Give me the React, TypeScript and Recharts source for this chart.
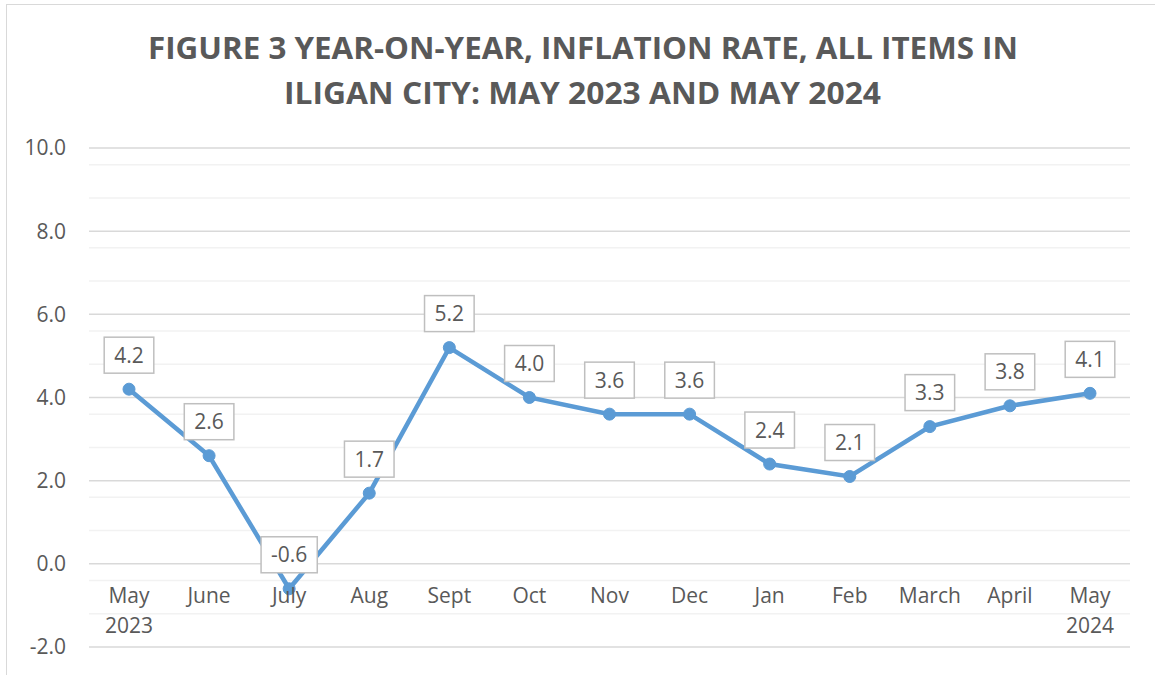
import { CartesianGrid, LabelList, Line, LineChart, XAxis, YAxis } from "recharts";

const categories = ["May 2023", "June", "July", "Aug", "Sept", "Oct", "Nov", "Dec", "Jan", "Feb", "March", "April", "May 2024"];
const inflation = [4.2, 2.6, -0.6, 1.7, 5.2, 4.0, 3.6, 3.6, 2.4, 2.1, 3.3, 3.8, 4.1];
const yTicks = [-2, 0, 2, 4, 6, 8, 10];
const minorGrid = [-1.6, -1.2, -0.8, -0.4, 0.4, 0.8, 1.2, 1.6, 2.4, 2.8, 3.2, 3.6, 4.4, 4.8, 5.2, 5.6, 6.4, 6.8, 7.2, 7.6, 8.4, 8.8, 9.2, 9.6];
const titleLines = ["FIGURE 3 YEAR-ON-YEAR, INFLATION RATE, ALL ITEMS IN", "ILIGAN CITY: MAY 2023 AND MAY 2024"];

const data = categories.map((c, i) => ({ month: c, rate: inflation[i] }));

const W = 1155;
const H = 675;
const TOP = 148;
const BOTTOM = 28;
const PLOT_H = H - TOP - BOTTOM;
const Y_MIN = -2;
const Y_MAX = 10;
// x labels sit on the zero line, not the bottom of the plot
const ZERO_UP = (PLOT_H * (0 - Y_MIN)) / (Y_MAX - Y_MIN);

const FONT = "'Open Sans', sans-serif";
const GREY = "#595959";

const MonthTick = (props: any) => {
  const { x, y, payload } = props;
  const lines = String(payload.value).split(" ");
  const base = y - ZERO_UP + 31;
  return (
    <g>
      {lines.map((l: string, i: number) => (
        <text key={i} x={x} y={base + i * 30} textAnchor="middle" fill={GREY} fontSize={21} fontFamily={FONT}>
          {l}
        </text>
      ))}
    </g>
  );
};

const BoxLabel = (props: any) => {
  const { x, y, value } = props;
  const txt = Number(value).toFixed(1);
  let w = 20;
  for (const ch of txt) w += ch === "." ? 5.6 : ch === "-" ? 6.6 : 12;
  const h = 36;
  const cy = y - 34;
  return (
    <g>
      <rect x={x - w / 2} y={cy - h / 2} width={w} height={h} fill="#ffffff" stroke="#bfbfbf" strokeWidth={1.5} />
      <text x={x} y={cy + 7.5} textAnchor="middle" fill={GREY} fontSize={21} fontFamily={FONT}>
        {txt}
      </text>
    </g>
  );
};

export default function App() {
  return (
    <div style={{ position: "absolute", left: 0, top: 0, width: W, height: H, overflow: "hidden", background: "#fff" }}>
      <div style={{ position: "absolute", left: 6, top: 4, width: W + 20, height: H + 20, border: "1.5px solid #d9d9d9" }} />
      <svg style={{ position: "absolute", left: 0, top: 0 }} width={W} height={130}>
        <text x={148} y={59} textLength={870} lengthAdjust="spacingAndGlyphs" fill={GREY} fontSize={30} fontWeight={700} fontFamily={FONT}>
          {titleLines[0]}
        </text>
        <text x={284} y={104} textLength={597} lengthAdjust="spacingAndGlyphs" fill={GREY} fontSize={30} fontWeight={700} fontFamily={FONT}>
          {titleLines[1]}
        </text>
      </svg>
      <div style={{ position: "absolute", left: 0, top: 0 }}>
        <LineChart width={W} height={H} data={data} margin={{ top: TOP, right: 25, bottom: BOTTOM - 1, left: 0 }}>
          <CartesianGrid vertical={false} horizontalValues={minorGrid} stroke="#f2f2f2" strokeWidth={1.5} />
          <CartesianGrid vertical={false} horizontalValues={yTicks} stroke="#d9d9d9" strokeWidth={1.5} />
          <XAxis
            dataKey="month"
            height={1}
            axisLine={false}
            tickLine={false}
            interval={0}
            padding={{ left: 40, right: 40 }}
            tick={<MonthTick />}
          />
          <YAxis
            width={89}
            domain={[Y_MIN, Y_MAX]}
            ticks={yTicks}
            axisLine={false}
            tickLine={false}
            tickSize={0}
            tickMargin={23}
            tickFormatter={(v: number) => v.toFixed(1)}
            tick={{ fill: GREY, fontSize: 21, fontFamily: FONT }}
          />
          <Line
            type="linear"
            dataKey="rate"
            stroke="#5b9bd5"
            strokeWidth={4.5}
            dot={{ r: 6, fill: "#5b9bd5", stroke: "#5b9bd5", strokeWidth: 1 }}
            isAnimationActive={false}
          >
            <LabelList dataKey="rate" content={<BoxLabel />} />
          </Line>
        </LineChart>
      </div>
    </div>
  );
}
